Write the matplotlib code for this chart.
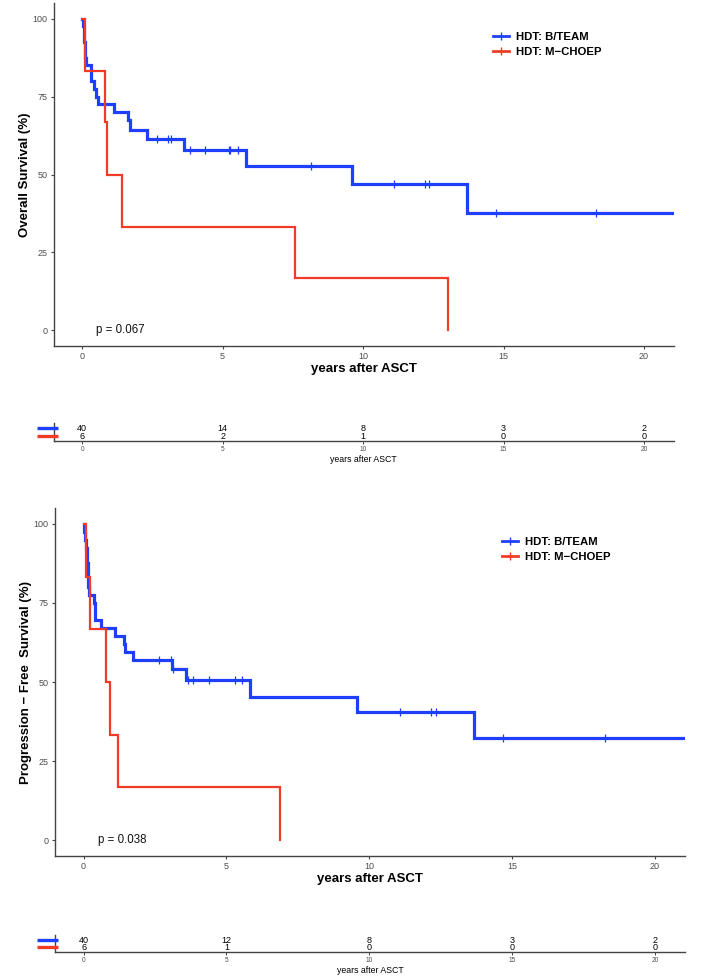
import matplotlib
matplotlib.use("Agg")
import matplotlib.pyplot as plt
from matplotlib.lines import Line2D

plt.rcParams['font.family'] = ['Liberation Sans', 'DejaVu Sans']

# ---------------- data ----------------
groups = ["HDT: B/TEAM", "HDT: M\u2212CHOEP"]
colors = ["#1f3fff", "#f03c26"]

# Overall survival
os_blue_t = [0, 0.02, 0.05, 0.08, 0.10, 0.12, 0.15, 0.30, 0.33, 0.42, 0.50, 0.57,
             1.15, 1.64, 1.72, 2.30, 3.62, 5.84, 9.61, 13.70]
os_blue_s = [100, 97.5, 95, 92.5, 90, 87.5, 85, 82.5, 80, 77.5, 75, 72.5,
             70, 67.5, 64.3, 61.4, 58.0, 52.7, 47.0, 37.6]
os_blue_end = 21.05
os_blue_cens = [2.65, 3.06, 3.17, 3.84, 4.38, 5.22, 5.27, 5.56, 8.14,
                11.09, 12.19, 12.36, 14.74, 18.30]

os_red_t = [0, 0.12, 0.81, 0.89, 1.43, 7.57, 13.01]
os_red_s = [100, 83.3, 66.7, 50.0, 33.3, 16.7, 0]
os_red_end = 13.01
os_red_cens = []

# Progression-free survival
pfs_blue_t = [0, 0.02, 0.04, 0.10, 0.12, 0.13, 0.14, 0.15, 0.16, 0.18, 0.35, 0.39, 0.41,
              0.61, 1.09, 1.40, 1.46, 1.73, 3.08, 3.60, 5.82, 9.56, 13.66]
pfs_blue_s = [100, 97.5, 95, 92.5, 90, 87.5, 85, 82.5, 80, 77.5, 75, 72.5, 69.7,
              67.1, 64.5, 62.1, 59.5, 56.9, 54.0, 50.5, 45.3, 40.5, 32.4]
pfs_blue_end = 21.05
pfs_blue_cens = [2.65, 3.06, 3.12, 3.66, 3.84, 4.40, 5.31, 5.55,
                 11.07, 12.15, 12.32, 14.69, 18.24]

pfs_red_t = [0, 0.09, 0.23, 0.77, 0.93, 1.20, 6.86]
pfs_red_s = [100, 83.3, 66.7, 50.0, 33.3, 16.7, 0]
pfs_red_end = 6.86
pfs_red_cens = []

risk_times = [0, 5, 10, 15, 20]
os_risk_blue = [40, 14, 8, 3, 2]
os_risk_red = [6, 2, 1, 0, 0]
pfs_risk_blue = [40, 12, 8, 3, 2]
pfs_risk_red = [6, 1, 0, 0, 0]

# ---------------- layout ----------------
W, H = 706, 976
fig = plt.figure(figsize=(W / 100, H / 100), dpi=100)

def rect(left, top, right, bottom):
    return [left / W, 1 - bottom / H, (right - left) / W, (bottom - top) / H]

spine_col = "#444444"
tick_col = "#4d4d4d"
XLIM = (-1.0, 21.05)


def step_value(t, s, x):
    v = s[0]
    for ti, si in zip(t, s):
        if ti <= x:
            v = si
    return v


def km_panel(ax, curves, ylabel, ptext):
    for (t, s, end, cens, col, lw) in curves:
        tt = list(t) + [end]
        ss = list(s) + [s[-1]]
        ax.step(tt, ss, where='post', color=col, lw=lw, solid_joinstyle='miter', zorder=3)
        if cens:
            cy = [step_value(t, s, c) for c in cens]
            ax.plot(cens, cy, ls='none', marker='|', ms=5.5, mew=0.9, color=col, zorder=4)
    ax.set_xlim(*XLIM)
    ax.set_ylim(-5, 105)
    ax.set_xticks([0, 5, 10, 15, 20])
    ax.set_yticks([0, 25, 50, 75, 100])
    for sp in ['top', 'right']:
        ax.spines[sp].set_visible(False)
    for sp in ['left', 'bottom']:
        ax.spines[sp].set_color(spine_col)
        ax.spines[sp].set_linewidth(1.0)
    ax.tick_params(length=2.5, width=0.8, color=spine_col, labelsize=6.5,
                   labelcolor=tick_col, pad=2)
    ax.set_ylabel(ylabel, fontsize=9.5, fontweight='bold', labelpad=1)
    ax.set_xlabel("years after ASCT", fontsize=9.5, fontweight='bold', labelpad=1)
    ax.text(0.5, 0, ptext, fontsize=8.3, ha='left', va='center', color='#111111')
    handles = [Line2D([0], [0], color=c, lw=2.0, marker='|', ms=6, mew=1.0) for c in colors]
    return handles


def risk_panel(ax, blue, red, bar_y_px):
    ax.set_xlim(*XLIM)
    ax.set_ylim(1, 0)
    for sp in ['top', 'right']:
        ax.spines[sp].set_visible(False)
    for sp in ['left', 'bottom']:
        ax.spines[sp].set_color(spine_col)
        ax.spines[sp].set_linewidth(1.0)
    ax.set_yticks([])
    ax.set_xticks(risk_times)
    ax.tick_params(axis='x', length=2, width=0.7, color=spine_col, labelsize=4.7,
                   labelcolor=tick_col, pad=1.5)
    ax.set_xlabel("years after ASCT", fontsize=6.3, labelpad=1.5)
    for x, b, r in zip(risk_times, blue, red):
        ax.text(x, 0.30, str(b), fontsize=6.5, ha='center', va='center')
        ax.text(x, 0.74, str(r), fontsize=6.5, ha='center', va='center')
    for yb, col in zip(bar_y_px, colors):
        fig.add_artist(Line2D([37 / W, 58 / W], [1 - yb / H, 1 - yb / H],
                              color=col, lw=2.4, solid_capstyle='butt'))


# top: overall survival
ax1 = fig.add_axes(rect(54, 3, 673.5, 346))
h = km_panel(ax1, [
    (os_blue_t, os_blue_s, os_blue_end, os_blue_cens, colors[0], 2.3),
    (os_red_t, os_red_s, os_red_end, os_red_cens, colors[1], 1.6),
], "Overall Survival (%)", "p = 0.067")
fig.legend(h, groups, loc='upper left', bbox_to_anchor=(493 / W, 1 - 32 / H),
           frameon=False, prop={'size': 8.2, 'weight': 'bold'}, handlelength=1.4,
           handletextpad=0.6, labelspacing=0.45, borderpad=0, borderaxespad=0)

rk1 = fig.add_axes(rect(54, 423, 673.5, 441))
risk_panel(rk1, os_risk_blue, os_risk_red, [428.3, 435.5])

# bottom: progression-free survival
ax2 = fig.add_axes(rect(55, 508, 685, 856))
h = km_panel(ax2, [
    (pfs_blue_t, pfs_blue_s, pfs_blue_end, pfs_blue_cens, colors[0], 2.3),
    (pfs_red_t, pfs_red_s, pfs_red_end, pfs_red_cens, colors[1], 1.6),
], "Progression \u2212 Free  Survival (%)", "p = 0.038")
fig.legend(h, groups, loc='upper left', bbox_to_anchor=(502 / W, 1 - 537 / H),
           frameon=False, prop={'size': 8.2, 'weight': 'bold'}, handlelength=1.4,
           handletextpad=0.6, labelspacing=0.45, borderpad=0, borderaxespad=0)

rk2 = fig.add_axes(rect(55, 935, 685, 952))
risk_panel(rk2, pfs_risk_blue, pfs_risk_red, [940, 947.3])

fig.savefig("out.png", dpi=100)
